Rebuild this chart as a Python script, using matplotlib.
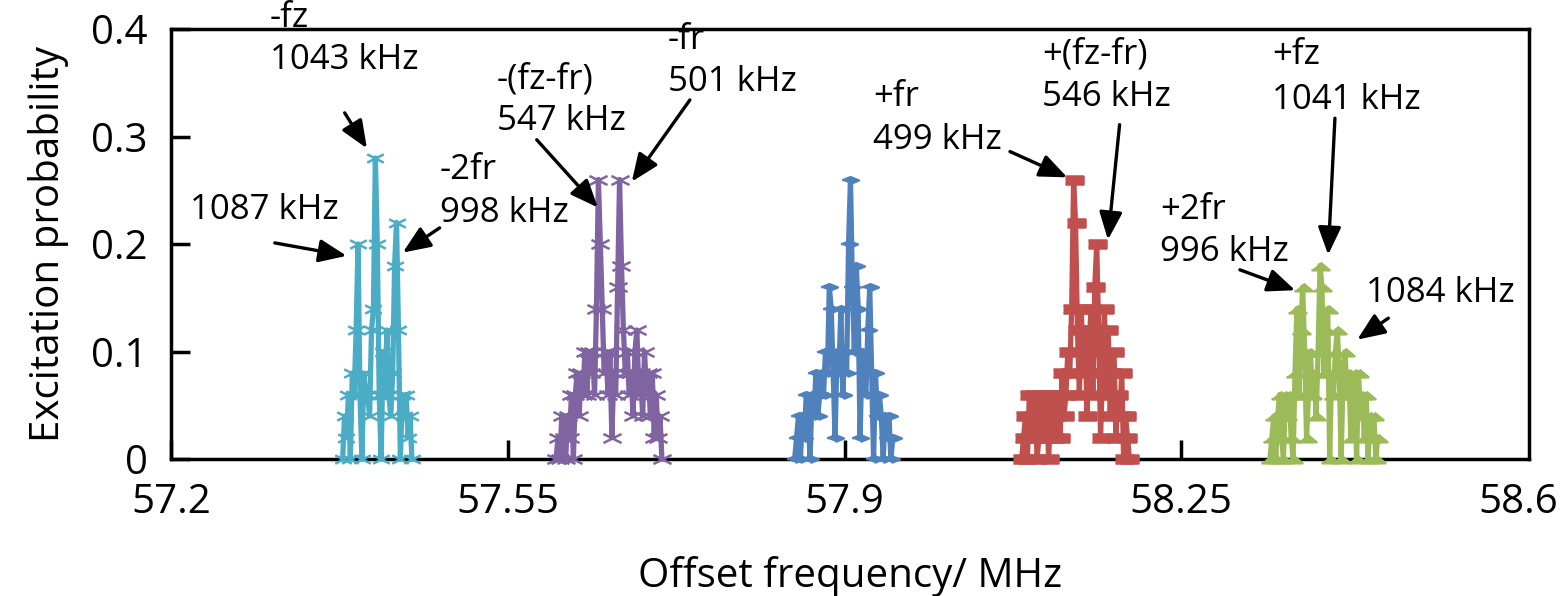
import numpy as np
import matplotlib.pyplot as plt
from matplotlib.path import Path

plt.rcParams['font.family'] = ['Open Sans', 'DejaVu Sans']

# scan step of every sideband scan (MHz)
step = 0.002

# -fz / -2fr group (cyan)
cyan_start = 57.3784
cyan_y = [0.0, 0.04, 0.02, 0.06, 0.0, 0.08, 0.06, 0.12, 0.20, 0.06,
          0.0, 0.08, 0.06, 0.06, 0.04, 0.12, 0.14, 0.28, 0.20, 0.06,
          0.0, 0.10, 0.06, 0.12, 0.06, 0.04, 0.08, 0.18, 0.22, 0.12,
          0.0, 0.06, 0.04, 0.06, 0.02, 0.04, 0.0]

# -(fz-fr) / -fr group (purple)
purple_start = 57.6002
purple_y = [0.0, 0.02, 0.0, 0.04, 0.02, 0.0, 0.04, 0.02, 0.06, 0.0,
            0.06, 0.08, 0.04, 0.08, 0.06, 0.10, 0.06, 0.10, 0.08, 0.10,
            0.06, 0.14, 0.26, 0.20, 0.14, 0.08, 0.10, 0.06, 0.10, 0.02,
            0.08, 0.06, 0.16, 0.26, 0.18, 0.12, 0.08, 0.10, 0.06, 0.08,
            0.04, 0.10, 0.12, 0.06, 0.08, 0.04, 0.10, 0.06, 0.08, 0.04,
            0.08, 0.02, 0.06, 0.02, 0.04, 0.0]

# +fr group (blue)
blue_start = 57.8482
blue_y = [0.0, 0.02, 0.04, 0.0, 0.04, 0.02, 0.06, 0.04, 0.0, 0.06,
          0.04, 0.08, 0.04, 0.06, 0.08, 0.06, 0.10, 0.08, 0.16, 0.14,
          0.08, 0.02, 0.10, 0.08, 0.14, 0.06, 0.10, 0.08, 0.20, 0.26,
          0.16, 0.10, 0.18, 0.14, 0.02, 0.10, 0.08, 0.06, 0.12, 0.16,
          0.08, 0.0, 0.08, 0.04, 0.06, 0.04, 0.0, 0.04, 0.02, 0.04,
          0.0, 0.02]

# +(fz-fr) group (red)
red_start = 58.0841
red_y = [0.0, 0.02, 0.04, 0.0, 0.06, 0.02, 0.04, 0.06, 0.0, 0.02,
         0.06, 0.04, 0.02, 0.06, 0.0, 0.04, 0.06, 0.02, 0.04, 0.06,
         0.02, 0.08, 0.04, 0.06, 0.10, 0.08, 0.14, 0.26, 0.22, 0.12,
         0.06, 0.14, 0.08, 0.12, 0.04, 0.10, 0.14, 0.06, 0.16, 0.20,
         0.12, 0.02, 0.08, 0.14, 0.06, 0.12, 0.04, 0.08, 0.10, 0.02,
         0.06, 0.04, 0.08, 0.0, 0.04, 0.02, 0.0]

# +2fr / +fz group (green)
green_start = 58.3422
green_y = [0.0, 0.02, 0.04, 0.0, 0.04, 0.06, 0.02, 0.0, 0.06, 0.04,
           0.06, 0.02, 0.0, 0.08, 0.14, 0.06, 0.12, 0.16, 0.10, 0.02,
           0.06, 0.10, 0.06, 0.08, 0.04, 0.10, 0.18, 0.16, 0.08, 0.12,
           0.14, 0.0, 0.08, 0.06, 0.10, 0.12, 0.08, 0.0, 0.08, 0.10,
           0.06, 0.08, 0.02, 0.06, 0.08, 0.0, 0.08, 0.04, 0.06, 0.02,
           0.06, 0.0, 0.04, 0.02, 0.04, 0.0, 0.02]

xticks = [57.2, 57.55, 57.9, 58.25, 58.6]
xtick_labels = ['57.2', '57.55', '57.9', '58.25', '58.6']
yticks = [0, 0.1, 0.2, 0.3, 0.4]
ytick_labels = ['0', '0.1', '0.2', '0.3', '0.4']

# flattened Excel-like markers
m_diamond = [(-1, 0), (0, 0.4), (1, 0), (0, -0.4)]
m_square = [(-1, -0.45), (1, -0.45), (1, 0.45), (-1, 0.45)]
m_tri = [(-1, -0.42), (1, -0.42), (0, 0.42)]
m_x = Path([(-1, -0.5), (1, 0.5), (-1, 0.5), (1, -0.5)],
           [Path.MOVETO, Path.LINETO, Path.MOVETO, Path.LINETO])

series = [
    (cyan_start, cyan_y, '#4BACC6', m_x, 12, 'none'),
    (purple_start, purple_y, '#8064A2', m_x, 13, 'none'),
    (blue_start, blue_y, '#4F81BD', m_diamond, 12, None),
    (red_start, red_y, '#C0504D', m_square, 12.5, None),
    (green_start, green_y, '#9BBB59', m_tri, 13, None),
]

fig = plt.figure(figsize=(15.65, 5.96), dpi=100)
ax = fig.add_axes([171 / 1565, 137 / 596, 1358 / 1565, 430 / 596])

for start, ys, col, mk, ms, mfc in series:
    xs = start + step * np.arange(len(ys))
    ax.plot(xs, ys, color=col, lw=3.8, marker=mk, ms=ms,
            mec=col, mfc=col if mfc is None else mfc, mew=1.8,
            clip_on=False, zorder=3)

# plot-area frame sits a little right of the last tick, as in the Excel chart
ax.set_xlim(57.2, 58.6114)
ax.set_ylim(0, 0.4)
ax.set_xticks(xticks)
ax.set_xticklabels(xtick_labels)
ax.set_yticks(yticks)
ax.set_yticklabels(ytick_labels)
ax.tick_params(direction='in', length=14, width=2.5, labelsize=29, pad=17)
ax.xaxis.get_major_ticks()[-1].tick1line.set_visible(False)
for sp in ax.spines.values():
    sp.set_linewidth(2.5)
ax.set_xlabel('Offset frequency/ MHz', fontsize=29, labelpad=24)
ax.set_ylabel('Excitation probability', fontsize=29, labelpad=16)

# annotations: (text lines, text x, line ys)
labels = [
    (['-fz', '1043 kHz'], 57.3028, [0.410, 0.371]),
    (['1087 kHz'], 57.2202, [0.232]),
    (['-2fr', '998 kHz'], 57.4792, [0.269, 0.229]),
    (['-(fz-fr)', '547 kHz'], 57.5387, [0.353, 0.314]),
    (['-fr', '501 kHz'], 57.7162, [0.390, 0.351]),
    (['+fr', '499 kHz'], 57.9299, [0.337, 0.297]),
    (['+(fz-fr)', '546 kHz'], 58.1053, [0.376, 0.337]),
    (['+fz', '1041 kHz'], 58.3442, [0.376, 0.334]),
    (['+2fr', '996 kHz'], 58.2283, [0.232, 0.193]),
    (['1084 kHz'], 58.4420, [0.154]),
]
for lines, tx, tys in labels:
    for s, ty in zip(lines, tys):
        ax.text(tx, ty, s, fontsize=25, ha='left', va='center', clip_on=False)

# arrows: (tail, head)
arrows = [
    ((57.3805, 0.322), (57.4036, 0.289)),
    ((57.3079, 0.201), (57.3825, 0.189)),
    ((57.4792, 0.215), (57.4409, 0.192)),
    ((57.5801, 0.297), (57.6436, 0.234)),
    ((57.7393, 0.334), (57.6789, 0.258)),
    ((58.0720, 0.286), (58.1315, 0.262)),
    ((58.1859, 0.311), (58.1738, 0.204)),
    ((58.4097, 0.317), (58.4027, 0.190)),
    ((58.3109, 0.176), (58.3684, 0.157)),
    ((58.4652, 0.131), (58.4329, 0.111)),
]
for tail, head in arrows:
    ax.annotate('', xy=head, xytext=tail,
                arrowprops=dict(arrowstyle='-|>,head_length=0.6,head_width=0.25',
                                mutation_scale=28, lw=2.4, color='black',
                                shrinkA=0, shrinkB=0))

fig.savefig('out.png', dpi=100)
